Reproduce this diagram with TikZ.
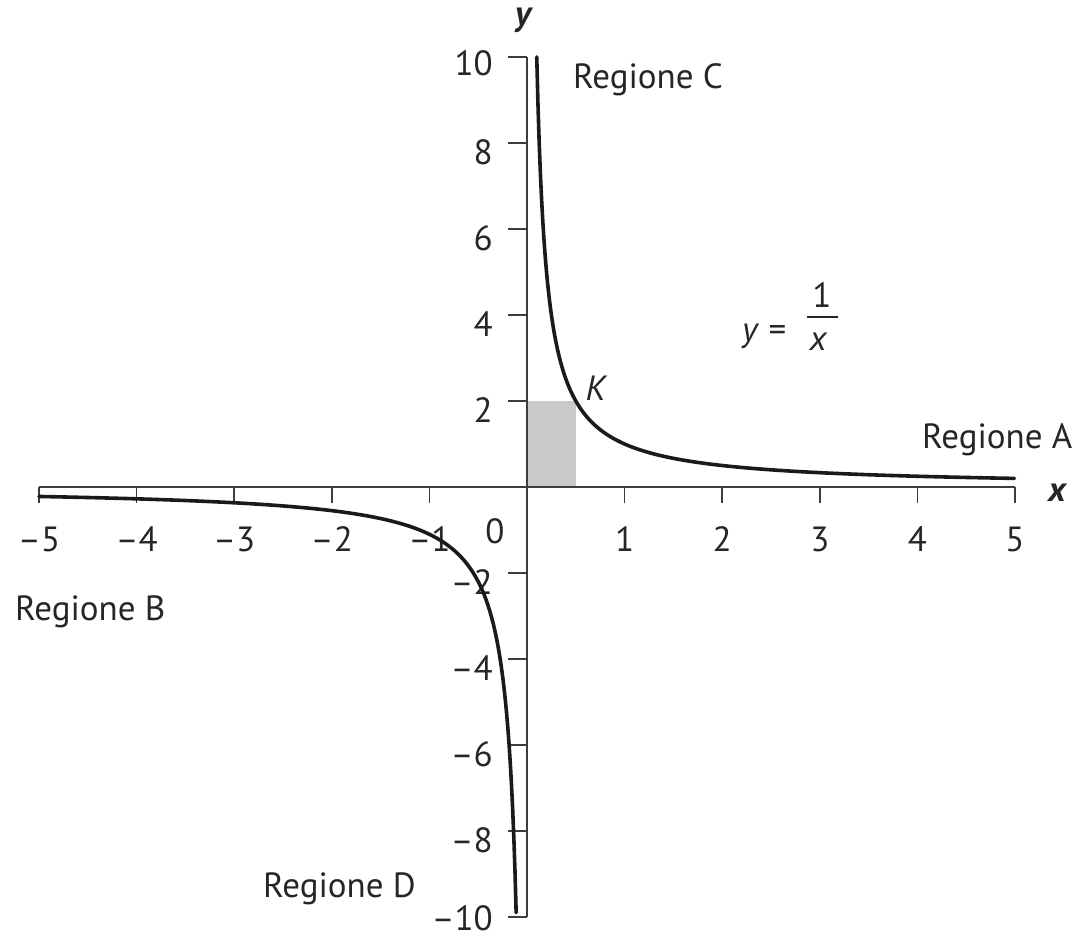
\documentclass[tikz,border=0pt]{standalone}
\usepackage{fontspec}
\setmainfont{PT Sans}
\definecolor{axisgray}{HTML}{3C3C3C}
\definecolor{inkblack}{HTML}{1A1A1A}
\definecolor{textgray}{HTML}{262626}
\definecolor{boxgray}{HTML}{C8C9CB}
\begin{document}
\begin{tikzpicture}[x=1pt,y=-1pt,
  lbl/.style={inner sep=0pt, text=textgray, font=\fontsize{35}{42}\selectfont},
  itlbl/.style={lbl, font=\fontsize{35}{42}\selectfont\itshape},
  axisline/.style={line width=2pt, draw=axisgray},
  tickline/.style={line width=1.6pt, draw=axisgray},
  fracbar/.style={line width=2pt, draw=textgray},
  curveline/.style={line width=3.6pt, draw=inkblack, line join=round, line cap=round}]
\useasboundingbox (0,0) rectangle (1074,938);
\begin{scope}[shift={(527pt,-487pt)}, x=97.6pt, y=43pt]
  \fill[boxgray] (0,0) rectangle (0.5,2);
  \coordinate (xl) at (-5,0);
  \coordinate (xr) at (5,0);
  \coordinate (yb) at (0,-10);
  \coordinate (yt) at (0,10);
  \draw[axisline] (xl) -- (xr);
  \draw[axisline] (yb) -- (yt);
  \foreach \i in {-5,-4,-3,-2,-1,1,2,3,4,5}
    \draw[tickline] (\i,0) -- ++(0pt,-16pt);
  \foreach \j in {-10,-8,-6,-4,-2,2,4,6,8,10}
    \draw[tickline] (0,\j) -- ++(-19pt,0pt);
  \draw[tickline] (0,0) -- ++(-7pt,0pt);
  \foreach \i/\t in {-5/–5,-4/–4,-3/–3,-2/–2,-1/–1,1/1,2/2,3/3,4/4,5/5}
    \node[lbl] (xt\i) at ([yshift=-52pt]\i,0) {\t};
  \node[lbl] (xt0) at ([xshift=-32pt,yshift=-44pt]0,0) {0};
  \foreach \j/\t in {-8/–8,-6/–6,-4/–4,-2/–2,2/2,4/4,6/6,8/8}
    \node[lbl, anchor=east] (yt\j) at ([xshift=-34pt,yshift=-9pt]0,\j) {\t};
  \node[lbl, anchor=east] (yt10) at ([xshift=-34pt,yshift=-6pt]0,10) {10};
  \node[lbl, anchor=east] (ytm10) at ([xshift=-34pt,yshift=-1pt]0,-10) {–10};
  \draw[curveline] plot[domain=0.1:5, samples=400] (\x,{1/\x});
  \draw[curveline] plot[domain=-5:-0.11, samples=400] (\x,{1.1/\x});
  \node[itlbl] (K) at ([xshift=20pt,yshift=13pt]0.5,2) {K};
\end{scope}
\node[lbl, font=\fontsize{35}{42}\selectfont\bfseries\itshape] (ylab) at (523,20) {y};
\node[lbl, font=\fontsize{35}{42}\selectfont\bfseries\itshape] (xlab) at (1057,493) {x};
\node[lbl, anchor=base west] (regC) at (573,88) {Regione C};
\node[lbl, anchor=base west] (regA) at (922,448) {Regione A};
\node[lbl, anchor=base west] (regB) at (15,620) {Regione B};
\node[lbl, anchor=base west] (regD) at (263,897) {Regione D};
\node[lbl, anchor=base west] (feq) at (742,341) {\textit{y} =};
\node[lbl, anchor=base] (fnum) at (822,307) {1};
\node[itlbl, anchor=base] (fden) at (818,350) {x};
\coordinate (fbarL) at (807,317);
\coordinate (fbarR) at (838,317);
\draw[fracbar] (fbarL) -- (fbarR);
\end{tikzpicture}
\end{document}
